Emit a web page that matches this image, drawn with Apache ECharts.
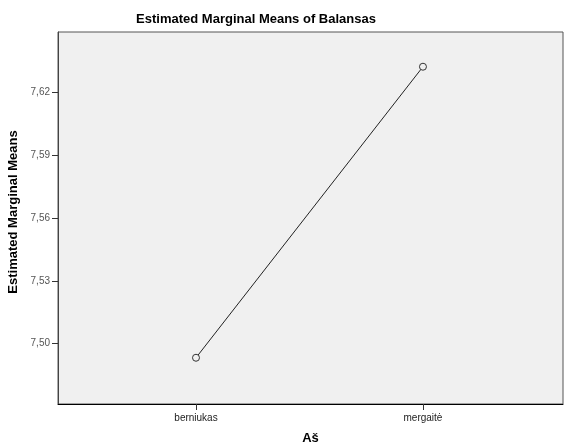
<!DOCTYPE html>
<html><head><meta charset="utf-8">
<script src="https://cdn.jsdelivr.net/npm/echarts@6/dist/echarts.min.js"></script>
<style>html,body{margin:0;padding:0;background:#fff}#c{width:576px;height:447px}</style>
</head><body><div id="c"></div>
<script>
const categories = ["berniukas", "mergaitė"];
const means = [7.4933, 7.6324];
const yTicks = [7.50, 7.53, 7.56, 7.59, 7.62];

const chart = echarts.init(document.getElementById('c'));
const F = '"Liberation Sans", Arial, sans-serif';
chart.setOption({
  animation: false,
  title: {
    text: 'Estimated Marginal Means of Balansas',
    left: 251, top: 8, textAlign: 'center',
    textStyle: {fontFamily: F, fontSize: 13, fontWeight: 'bold', color: '#000'}
  },
  grid: {left: 58, right: 13, top: 32, bottom: 43, show: true, outerBoundsMode: 'none', containLabel: false,
    backgroundColor: '#f0f0f0', borderColor: '#555', borderWidth: 1},
  xAxis: {
    type: 'value', min: -0.608, max: 1.617,
    name: 'Aš', nameLocation: 'middle', nameGap: 28,
    nameTextStyle: {fontFamily: F, fontSize: 13, fontWeight: 'bold', color: '#000'},
    axisLine: {show: true, onZero: false, lineStyle: {color: '#000'}},
    axisTick: {show: true, length: 6, customValues: [0, 1], lineStyle: {color: '#333'}},
    axisLabel: {customValues: [0, 1], formatter: v => categories[Math.round(v)] || '',
      fontFamily: F, fontSize: 10, color: '#222', margin: 9},
    splitLine: {show: false}
  },
  yAxis: {
    type: 'value', min: 7.4712, max: 7.649,
    name: 'Estimated Marginal Means', nameLocation: 'middle', nameGap: 34,
    nameTextStyle: {fontFamily: F, fontSize: 13, fontWeight: 'bold', color: '#000', padding: [0, 0, 0, 12]},
    axisLine: {show: true, onZero: false, lineStyle: {color: '#444'}},
    axisTick: {show: true, length: 6, customValues: yTicks, lineStyle: {color: '#333'}},
    axisLabel: {customValues: yTicks, formatter: v => v.toFixed(2).replace('.', ','),
      fontFamily: F, fontSize: 10, color: '#555', margin: 8},
    splitLine: {show: false}
  },
  series: [{
    type: 'line',
    data: means.map((m, i) => [i, m]),
    symbol: 'circle', symbolSize: 7,
    lineStyle: {color: '#222', width: 1},
    itemStyle: {color: '#f0f0f0', borderColor: '#333', borderWidth: 1}
  }]
});
</script></body></html>
